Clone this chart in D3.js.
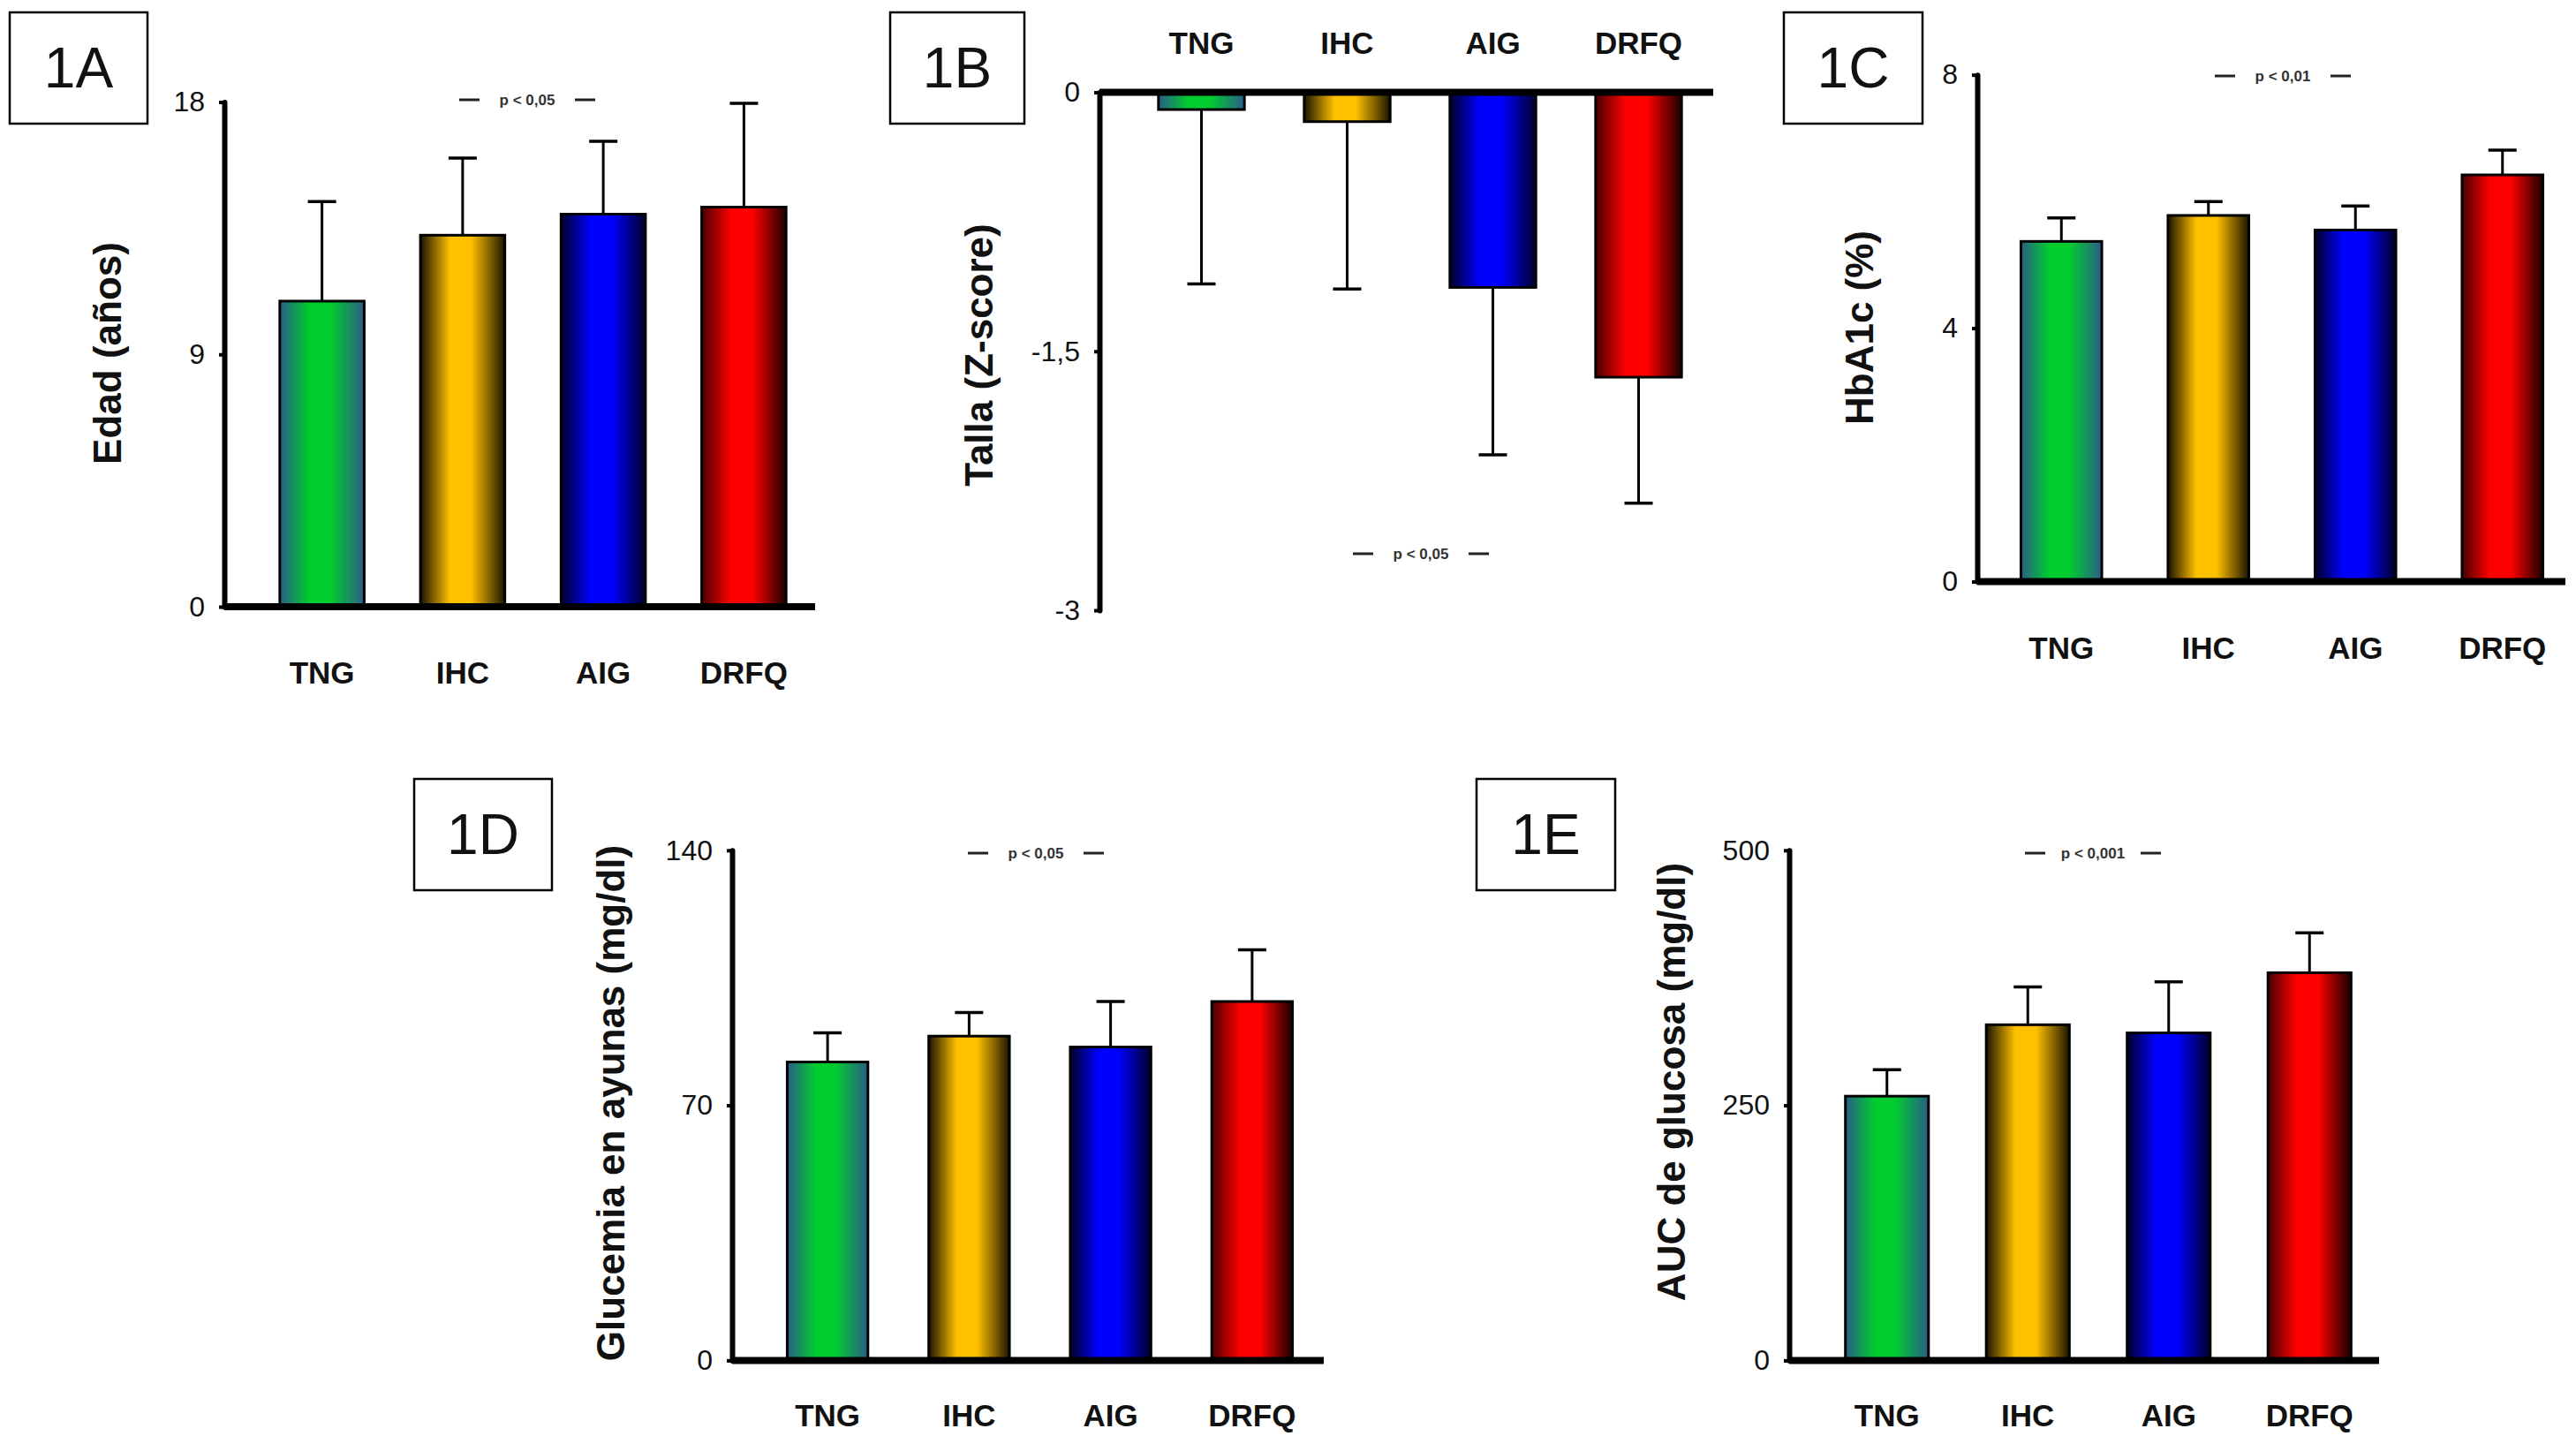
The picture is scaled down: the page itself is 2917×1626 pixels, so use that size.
<!DOCTYPE html>
<html>
<head>
<meta charset="utf-8">
<script src="https://cdn.jsdelivr.net/npm/d3@7"></script>
<style>
  body { margin: 0; background: #fff; }
  svg { display: block; font-family: "Liberation Sans", Arial, sans-serif; }
</style>
</head>
<body>
<div id="chart"></div>
<script>
// Data
const categories = ["TNG", "IHC", "AIG", "DRFQ"];

const edadMean = [10.9, 13.25, 14.0, 14.25];
const edadSD = [3.55, 2.75, 2.6, 3.7];
const edadTicks = [0, 9, 18];

const tallaMean = [-0.10, -0.17, -1.13, -1.65];
const tallaSD = [1.01, 0.97, 0.97, 0.73];
const tallaTicks = [0, -1.5, -3];

const hba1cMean = [5.37, 5.78, 5.55, 6.42];
const hba1cSD = [0.37, 0.22, 0.38, 0.39];
const hba1cTicks = [0, 4, 8];

const glucemiaMean = [81.9, 89.0, 86.0, 98.5];
const glucemiaSD = [8.0, 6.5, 12.5, 14.2];
const glucemiaTicks = [0, 70, 140];

const aucMean = [259, 329, 321, 380];
const aucSD = [26, 37, 50, 39];
const aucTicks = [0, 250, 500];

const panelNames = ["1A", "1B", "1C", "1D", "1E"];
const yLabels = ["Edad (años)", "Talla (Z-score)", "HbA1c (%)", "Glucemia en ayunas (mg/dl)", "AUC de glucosa (mg/dl)"];
const pLabels = ["p < 0,05", "p < 0,05", "p < 0,01", "p < 0,05", "p < 0,001"];

// Bar gradients (edge, centre)
const barColors = [
  { edge: "#2a5d88", mid: "#00cc2e", edge2: "#2a5d88" },
  { edge: "#1c1400", mid: "#ffc000", edge2: "#1c1400" },
  { edge: "#00002a", mid: "#0000ff", edge2: "#00002a" },
  { edge: "#4a0000", mid: "#ff0000", edge2: "#1a0000" }
];

// Layout
const width = 2917, height = 1626;
const panels = [
  { mean: edadMean, sd: edadSD, ticks: edadTicks, domain: [0, 18], yRange: [687, 115.5],
    axisX: 254, axisEnd: 923, band: [285, 922], pad: 0.4, labelPad: 62, top: false,
    box: [11, 14, 156, 126], yLabelPos: [121, 400], pPos: [597, 113] },
  { mean: tallaMean, sd: tallaSD, ticks: tallaTicks, domain: [-3, 0], yRange: [691, 104.5],
    axisX: 1245, axisEnd: 1940, band: [1278, 1938], pad: 0.41, labelPad: 44, top: true,
    box: [1008, 14, 152, 126], yLabelPos: [1108, 402], pPos: [1609, 627] },
  { mean: hba1cMean, sd: hba1cSD, ticks: hba1cTicks, domain: [0, 8], yRange: [658.5, 84.7],
    axisX: 2239, axisEnd: 2905, band: [2251, 2917], pad: 0.45, labelPad: 63, top: false,
    box: [2020, 14, 157, 126], yLabelPos: [2105, 371], pPos: [2585, 86] },
  { mean: glucemiaMean, sd: glucemiaSD, ticks: glucemiaTicks, domain: [0, 140], yRange: [1540.4, 962.8],
    axisX: 829, axisEnd: 1499, band: [857, 1498], pad: 0.43, labelPad: 50, top: false,
    box: [469, 882, 156, 126], yLabelPos: [691, 1249], pPos: [1173, 966] },
  { mean: aucMean, sd: aucSD, ticks: aucTicks, domain: [0, 500], yRange: [1540.4, 962.8],
    axisX: 2026, axisEnd: 2694, band: [2057, 2695], pad: 0.41, labelPad: 50, top: false,
    box: [1672, 882, 157, 126], yLabelPos: [1892, 1225], pPos: [2370, 966] }
];

const svg = d3.select("#chart").append("svg")
  .attr("width", width)
  .attr("height", height)
  .attr("viewBox", `0 0 ${width} ${height}`);

svg.append("rect").attr("width", width).attr("height", height).attr("fill", "#fff");

// Gradients
const defs = svg.append("defs");
barColors.forEach((c, i) => {
  const g = defs.append("linearGradient")
    .attr("id", "grad" + i)
    .attr("x1", "0%").attr("x2", "100%").attr("y1", "0%").attr("y2", "0%");
  g.append("stop").attr("offset", "0%").attr("stop-color", c.edge);
  g.append("stop").attr("offset", "35%").attr("stop-color", c.mid);
  g.append("stop").attr("offset", "60%").attr("stop-color", c.mid);
  g.append("stop").attr("offset", "100%").attr("stop-color", c.edge2);
});

const fmt = d => String(d).replace(".", ",");

panels.forEach((p, pi) => {
  const g = svg.append("g");
  const data = categories.map((c, i) => ({ cat: c, i, mean: p.mean[i], sd: p.sd[i] }));

  const x = d3.scaleBand().domain(categories).range(p.band)
    .paddingInner(p.pad).paddingOuter(p.pad / 2);
  const y = d3.scaleLinear().domain(p.domain).range(p.yRange);

  // Panel label box
  g.append("rect")
    .attr("x", p.box[0]).attr("y", p.box[1])
    .attr("width", p.box[2]).attr("height", p.box[3])
    .attr("fill", "none").attr("stroke", "#000").attr("stroke-width", 2.5);
  g.append("text")
    .attr("x", p.box[0] + p.box[2] / 2)
    .attr("y", p.box[1] + p.box[3] / 2)
    .attr("text-anchor", "middle")
    .attr("dominant-baseline", "central")
    .attr("font-size", 64)
    .attr("fill", "#111")
    .text(panelNames[pi]);

  // Bars
  g.selectAll("rect.bar").data(data).join("rect")
    .attr("class", "bar")
    .attr("x", d => x(d.cat))
    .attr("width", x.bandwidth())
    .attr("y", d => y(Math.max(0, d.mean)))
    .attr("height", d => Math.abs(y(d.mean) - y(0)))
    .attr("fill", d => `url(#grad${d.i})`)
    .attr("stroke", "#000")
    .attr("stroke-width", 3);

  // Error bars
  const errEnd = d => d.mean + (d.mean < 0 ? -d.sd : d.sd);
  g.selectAll("line.err").data(data).join("line")
    .attr("class", "err")
    .attr("x1", d => x(d.cat) + x.bandwidth() / 2)
    .attr("x2", d => x(d.cat) + x.bandwidth() / 2)
    .attr("y1", d => y(d.mean))
    .attr("y2", d => y(errEnd(d)))
    .attr("stroke", "#000").attr("stroke-width", 3);
  g.selectAll("line.cap").data(data).join("line")
    .attr("class", "cap")
    .attr("x1", d => x(d.cat) + x.bandwidth() / 2 - 16)
    .attr("x2", d => x(d.cat) + x.bandwidth() / 2 + 16)
    .attr("y1", d => y(errEnd(d)))
    .attr("y2", d => y(errEnd(d)))
    .attr("stroke", "#000").attr("stroke-width", 3.5);

  // Y axis
  const yAxis = g.append("g")
    .attr("transform", `translate(${p.axisX},0)`)
    .call(d3.axisLeft(y).tickValues(p.ticks).tickFormat(fmt).tickSizeInner(6).tickSizeOuter(0).tickPadding(16));
  yAxis.select(".domain").attr("stroke", "#000").attr("stroke-width", 6).attr("stroke-linecap", "round");
  yAxis.selectAll(".tick line").attr("stroke", "#000").attr("stroke-width", 4);
  yAxis.selectAll(".tick text")
    .attr("font-size", 32)
    .attr("fill", "#111")
    .attr("font-family", "'Liberation Sans', Arial, sans-serif");

  // X axis line
  g.append("line")
    .attr("x1", p.axisX).attr("x2", p.axisEnd)
    .attr("y1", y(0)).attr("y2", y(0))
    .attr("stroke", "#000").attr("stroke-width", 8);

  // Category labels
  const xAxisFn = p.top ? d3.axisTop(x) : d3.axisBottom(x);
  const xAxis = g.append("g")
    .attr("transform", `translate(0,${y(0)})`)
    .call(xAxisFn.tickSize(0).tickPadding(p.labelPad));
  xAxis.select(".domain").remove();
  xAxis.selectAll(".tick text")
    .attr("font-size", 35)
    .attr("font-weight", "bold")
    .attr("fill", "#111")
    .attr("font-family", "'Liberation Sans', Arial, sans-serif");

  // Y label
  g.append("text")
    .attr("transform", `translate(${p.yLabelPos[0]},${p.yLabelPos[1]}) rotate(-90)`)
    .attr("text-anchor", "middle")
    .attr("dominant-baseline", "central")
    .attr("font-size", 44)
    .attr("font-weight", "bold")
    .attr("fill", "#111")
    .text(yLabels[pi]);

  // p-value annotation
  const [px, py] = p.pPos;
  g.append("text")
    .attr("x", px).attr("y", py)
    .attr("text-anchor", "middle")
    .attr("dominant-baseline", "central")
    .attr("font-size", 17)
    .attr("font-weight", "bold")
    .attr("fill", "#333")
    .text(pLabels[pi]);
  [-1, 1].forEach(s => {
    g.append("line")
      .attr("x1", px + s * 54).attr("x2", px + s * 77)
      .attr("y1", py).attr("y2", py)
      .attr("stroke", "#222").attr("stroke-width", 3);
  });
});
</script>
</body>
</html>
